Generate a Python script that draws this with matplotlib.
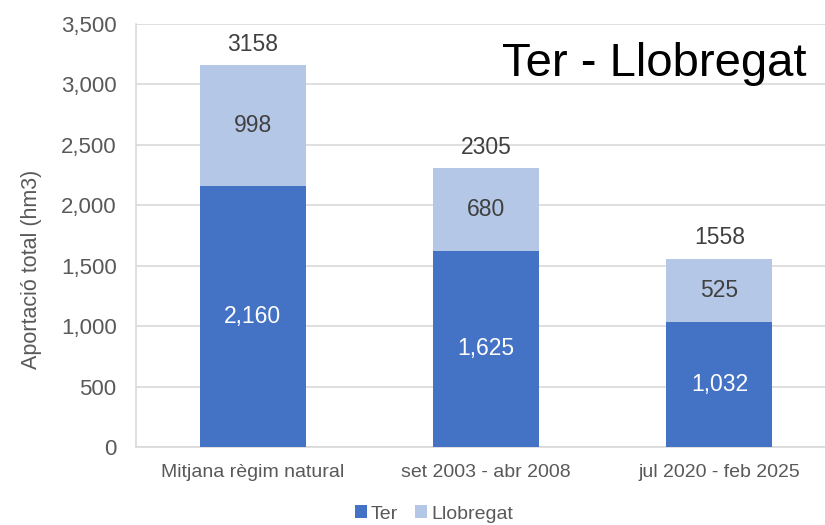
import numpy as np
import matplotlib.pyplot as plt
from matplotlib.ticker import FuncFormatter

plt.rcParams['font.family'] = ['Liberation Sans', 'DejaVu Sans']

categories = ['Mitjana règim natural', 'set 2003 - abr 2008', 'jul 2020 - feb 2025']
ter = [2160, 1625, 1032]
llobregat = [998, 680, 525]
totals = [3158, 2305, 1558]

c_ter = '#4472C4'
c_llob = '#B4C7E7'
grey = '#595959'

fig = plt.figure(figsize=(8.25, 5.25), dpi=100)
ax = fig.add_axes([136 / 825, 78 / 525, 700 / 825, 423 / 525])

x = np.arange(len(categories))
w = 0.455
ax.bar(x, ter, w, color=c_ter, label='Ter', zorder=3)
ax.bar(x, llobregat, w, bottom=ter, color=c_llob, label='Llobregat', zorder=3)

for i in range(len(categories)):
    ax.text(x[i], ter[i] / 2, f'{ter[i]:,}', ha='center', va='center',
            color='white', fontsize=16.5, zorder=4)
    ax.text(x[i], ter[i] + llobregat[i] / 2, f'{llobregat[i]}', ha='center',
            va='center', color='#404040', fontsize=16.5, zorder=4)
    ax.text(x[i], totals[i] + 175, f'{totals[i]}', ha='center', va='center',
            color='#404040', fontsize=16.5, zorder=4)

ax.set_xlim(-0.5, 2.5)
ax.set_ylim(0, 3500)
ax.set_yticks(range(0, 3501, 500))
ax.yaxis.set_major_formatter(FuncFormatter(lambda v, p: f'{int(v):,}'))
ax.grid(axis='y', color='#D9D9D9', linewidth=1.2, zorder=0)
ax.set_xticks(x)
ax.set_xticklabels(categories, fontsize=14, color=grey)
ax.tick_params(axis='y', labelsize=16, labelcolor=grey, length=0, pad=14)
ax.tick_params(axis='x', length=0, pad=12)
for s in ['top', 'right']:
    ax.spines[s].set_visible(False)
ax.spines['left'].set_color('#D9D9D9')
ax.spines['bottom'].set_color('#D9D9D9')
ax.spines['left'].set_linewidth(1.2)
ax.spines['bottom'].set_linewidth(1.2)
ax.set_ylabel('Aportació total (hm3)', fontsize=15.5, color=grey)
ax.yaxis.set_label_coords(-0.134, 0.42)

fig.text(806 / 825, 1 - 64 / 525, 'Ter - Llobregat', ha='right', va='center',
         fontsize=34, color='black')

fig.legend(loc='center', bbox_to_anchor=(434 / 825, 1 - 514 / 525), ncol=2,
           frameon=False, fontsize=14, handlelength=0.6, handleheight=0.6,
           handletextpad=0.2, columnspacing=0.9, labelcolor=grey)

fig.savefig('out.png', dpi=100)
